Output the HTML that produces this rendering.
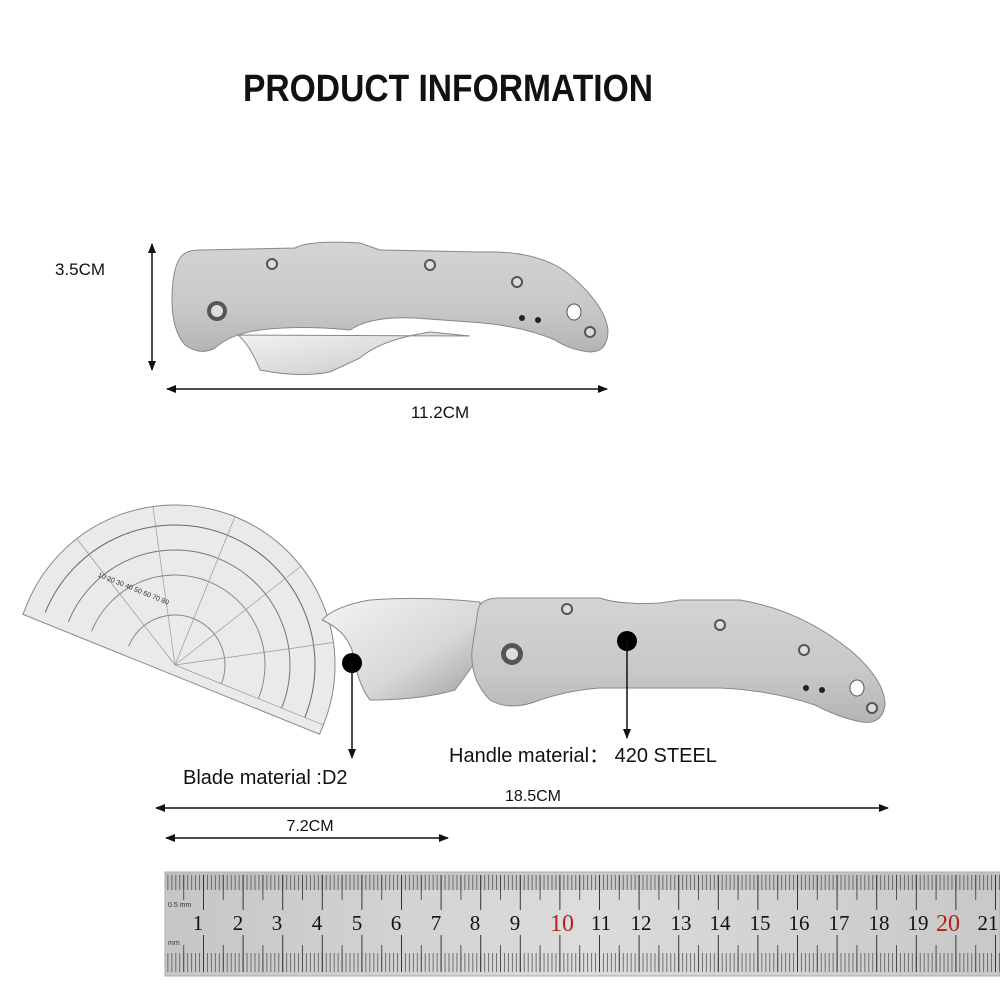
<!DOCTYPE html>
<html><head><meta charset="utf-8"><style>
html,body{margin:0;padding:0;background:#fff}
svg{display:block}
</style></head><body>
<svg width="1000" height="1000" viewBox="0 0 1000 1000" xmlns="http://www.w3.org/2000/svg" font-family="Liberation Sans,sans-serif">
<defs>
<linearGradient id="steel" x1="0" y1="0" x2="0" y2="1">
<stop offset="0" stop-color="#d4d4d4"/><stop offset="0.6" stop-color="#c8c8c8"/><stop offset="1" stop-color="#b4b4b4"/>
</linearGradient>
<linearGradient id="blade" x1="0" y1="0" x2="1" y2="1">
<stop offset="0" stop-color="#f4f4f4"/><stop offset="0.6" stop-color="#d8d8d8"/><stop offset="1" stop-color="#a0a0a0"/>
</linearGradient>
<linearGradient id="rul" x1="0" y1="0" x2="1" y2="0">
<stop offset="0" stop-color="#c6c6c6"/><stop offset="0.5" stop-color="#dcdcdc"/><stop offset="1" stop-color="#c8c8c8"/>
</linearGradient>
<pattern id="mm" patternUnits="userSpaceOnUse" x="203" y="0" width="3.96" height="1000">
<line x1="0.5" y1="875" x2="0.5" y2="890" stroke="#555" stroke-width="0.8"/>
<line x1="0.5" y1="953" x2="0.5" y2="972" stroke="#555" stroke-width="0.8"/>
</pattern>
<pattern id="cm" patternUnits="userSpaceOnUse" x="203" y="0" width="39.6" height="1000">
<line x1="0.5" y1="875" x2="0.5" y2="910" stroke="#333" stroke-width="1"/>
<line x1="0.5" y1="935" x2="0.5" y2="972" stroke="#333" stroke-width="1"/>
<line x1="20.3" y1="875" x2="20.3" y2="900" stroke="#444" stroke-width="0.9"/>
<line x1="20.3" y1="945" x2="20.3" y2="972" stroke="#444" stroke-width="0.9"/>
</pattern>
<marker id="ah" markerWidth="10" markerHeight="8" refX="9" refY="4" orient="auto-start-reverse" markerUnits="userSpaceOnUse">
<path d="M0,0 L10,4 L0,8 z" fill="#111"/>
</marker>
</defs>

<text x="448" y="101" text-anchor="middle" font-size="38" font-weight="bold" textLength="410" lengthAdjust="spacingAndGlyphs" fill="#111">PRODUCT INFORMATION</text>

<text x="55" y="275" font-size="17" fill="#111">3.5CM</text>
<line x1="152" y1="244" x2="152" y2="370" stroke="#111" stroke-width="1.5" marker-start="url(#ah)" marker-end="url(#ah)"/>
<line x1="167" y1="389" x2="607" y2="389" stroke="#111" stroke-width="1.5" marker-start="url(#ah)" marker-end="url(#ah)"/>
<text x="440" y="418" text-anchor="middle" font-size="17" fill="#111">11.2CM</text>

<path d="M238,335 Q250,345 260,370 Q300,378 330,372 L360,358 Q380,340 430,332 L470,336 Z" fill="url(#blade)" stroke="#888"/>
<path d="M180,258 Q185,250 200,250 L295,248 Q310,240 360,243 L380,250 L480,252 Q540,250 570,275 Q605,305 608,330 Q608,352 590,352 Q570,350 555,340 Q520,325 470,322 L415,318 Q370,316 350,330 Q300,325 260,330 Q230,334 215,348 Q200,356 185,345 Q172,330 172,300 Q172,270 180,258 Z" fill="url(#steel)" stroke="#888"/>
<circle cx="217" cy="311" r="10" fill="#555"/><circle cx="217" cy="311" r="6" fill="#ddd"/>
<circle cx="272" cy="264" r="5" fill="#ddd" stroke="#555" stroke-width="2"/>
<circle cx="430" cy="265" r="5" fill="#ddd" stroke="#555" stroke-width="2"/>
<circle cx="517" cy="282" r="5" fill="#ddd" stroke="#555" stroke-width="2"/>
<circle cx="590" cy="332" r="5" fill="#ddd" stroke="#555" stroke-width="2"/>
<circle cx="522" cy="318" r="3" fill="#222"/><circle cx="538" cy="320" r="3" fill="#222"/>
<ellipse cx="574" cy="312" rx="7" ry="8" fill="#fff" stroke="#555"/>

<g transform="rotate(22 175 665)">
<path d="M15,665 A160,160 0 0 1 335,665 L335,675 L15,675 Z" fill="#e6e8ea" fill-opacity="0.9" stroke="#888"/>
<path d="M35,665 A140,140 0 0 1 315,665" fill="none" stroke="#666"/>
<path d="M60,665 A115,115 0 0 1 290,665" fill="none" stroke="#777"/>
<path d="M85,665 A90,90 0 0 1 265,665" fill="none" stroke="#888"/>
<path d="M125,665 A50,50 0 0 1 225,665" fill="none" stroke="#888"/>
<g stroke="#999" stroke-width="0.7">
<line x1="175" y1="665" x2="335" y2="665"/><line x1="175" y1="665" x2="313" y2="585"/><line x1="175" y1="665" x2="255" y2="526"/>
<line x1="175" y1="665" x2="175" y2="505"/><line x1="175" y1="665" x2="95" y2="526"/><line x1="175" y1="665" x2="37" y2="585"/>
</g>
<text x="70" y="612" font-size="7" fill="#333">10 20 30 40 50 60 70 80</text>
</g>

<path d="M480,602 Q420,596 370,600 Q335,606 322,620 Q345,630 352,650 Q358,685 370,700 Q420,700 455,690 Q470,670 480,655 Z" fill="url(#blade)" stroke="#888"/>
<path d="M478,610 Q480,598 500,598 L600,598 Q620,605 660,603 L680,600 L740,600 Q800,610 850,650 Q885,680 885,705 Q882,725 862,722 Q840,718 815,705 Q770,690 720,688 L600,688 Q570,690 540,700 Q510,712 490,700 Q470,680 472,650 Z" fill="url(#steel)" stroke="#888"/>
<circle cx="512" cy="654" r="11" fill="#555"/><circle cx="512" cy="654" r="6" fill="#ddd"/>
<circle cx="567" cy="609" r="5" fill="#ddd" stroke="#555" stroke-width="2"/>
<circle cx="720" cy="625" r="5" fill="#ddd" stroke="#555" stroke-width="2"/>
<circle cx="804" cy="650" r="5" fill="#ddd" stroke="#555" stroke-width="2"/>
<circle cx="872" cy="708" r="5" fill="#ddd" stroke="#555" stroke-width="2"/>
<circle cx="806" cy="688" r="3" fill="#222"/><circle cx="822" cy="690" r="3" fill="#222"/>
<ellipse cx="857" cy="688" rx="7" ry="8" fill="#fff" stroke="#555"/>

<circle cx="352" cy="663" r="10" fill="#000"/>
<line x1="352" y1="663" x2="352" y2="758" stroke="#111" stroke-width="1.5" marker-end="url(#ah)"/>
<circle cx="627" cy="641" r="10" fill="#000"/>
<line x1="627" y1="641" x2="627" y2="738" stroke="#111" stroke-width="1.5" marker-end="url(#ah)"/>
<text x="183" y="784" font-size="20" fill="#111">Blade material :D2</text>
<text x="449" y="762" font-size="20" fill="#111">Handle material：  420 STEEL</text>

<line x1="156" y1="808" x2="888" y2="808" stroke="#111" stroke-width="1.5" marker-start="url(#ah)" marker-end="url(#ah)"/>
<text x="533" y="801" text-anchor="middle" font-size="16" fill="#111">18.5CM</text>
<line x1="166" y1="838" x2="448" y2="838" stroke="#111" stroke-width="1.5" marker-start="url(#ah)" marker-end="url(#ah)"/>
<text x="310" y="831" text-anchor="middle" font-size="16" fill="#111">7.2CM</text>

<rect x="165" y="872" width="835" height="104" fill="url(#rul)" stroke="#aaa"/>
<rect x="165" y="872" width="835" height="18" fill="#b8b8b8" opacity="0.5"/>
<rect x="165" y="872" width="835" height="104" fill="url(#mm)"/>
<rect x="165" y="872" width="835" height="104" fill="url(#cm)"/>
<text x="168" y="907" font-size="7" fill="#333">0.5 mm</text>
<text x="168" y="945" font-size="7" fill="#333">mm</text>
<g style="font-family:'Liberation Serif',serif" font-size="21" fill="#111" text-anchor="middle">
<text x="198" y="930">1</text><text x="238" y="930">2</text><text x="277" y="930">3</text><text x="317" y="930">4</text><text x="357" y="930">5</text><text x="396" y="930">6</text><text x="436" y="930">7</text><text x="475" y="930">8</text><text x="515" y="930">9</text><text x="562" y="931" fill="#b02418" font-size="24">10</text><text x="601" y="930">11</text><text x="641" y="930">12</text><text x="681" y="930">13</text><text x="720" y="930">14</text><text x="760" y="930">15</text><text x="799" y="930">16</text><text x="839" y="930">17</text><text x="879" y="930">18</text><text x="918" y="930">19</text><text x="948" y="931" fill="#b02418" font-size="24">20</text><text x="988" y="930">21</text>
</g>
</svg>
</body></html>
